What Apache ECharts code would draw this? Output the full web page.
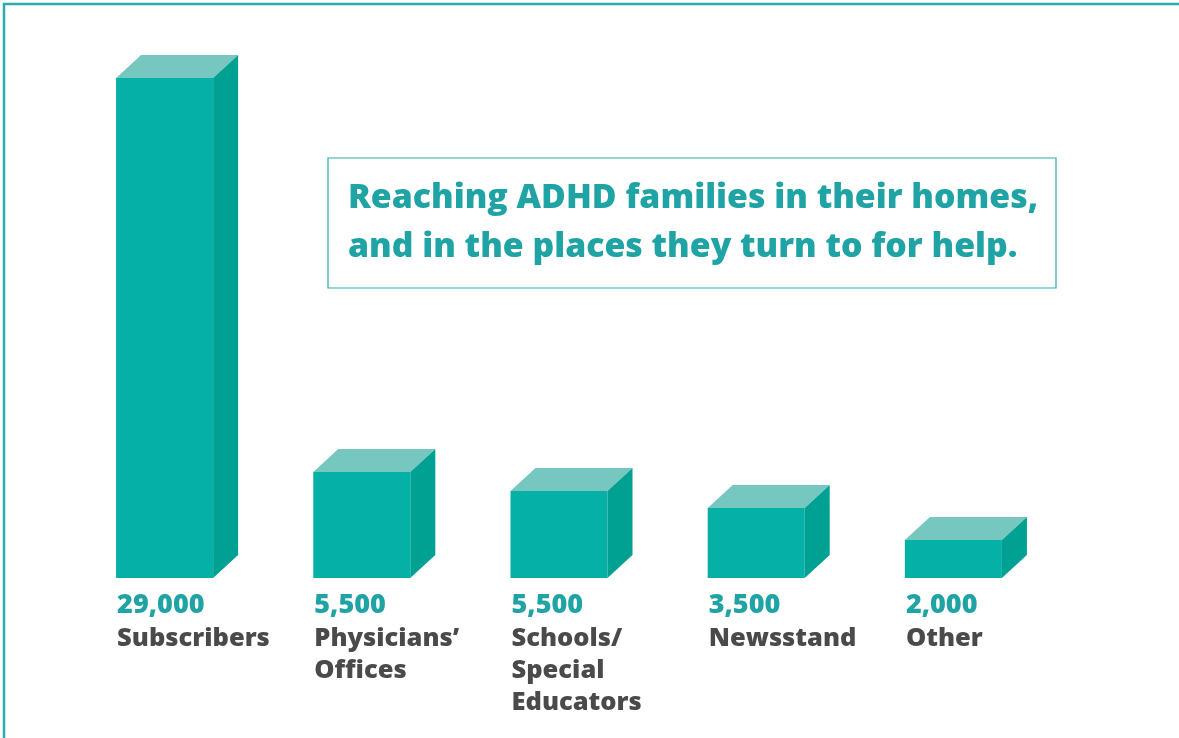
<!DOCTYPE html>
<html>
<head>
<meta charset="utf-8">
<script src="https://cdn.jsdelivr.net/npm/echarts@6/dist/echarts.min.js"></script>
<style>
html,body{margin:0;padding:0;background:#fff;}
#chart{width:1179px;height:738px;}
</style>
</head>
<body>
<div id="chart"></div>
<script>
// Data
const categories = ['Subscribers', 'Physicians’\nOffices', 'Schools/\nSpecial\nEducators', 'Newsstand', 'Other'];
const values = [29000, 5500, 5500, 3500, 2000];
// The reference draws bars not to scale; these are the drawn heights (same units)
const drawnHeights = [29000, 6150, 5050, 4060, 2200];
const titleLines = ['Reaching ADHD families in their homes,', 'and in the places they turn to for help.'];

const FRONT = '#05B0A6', TOP = '#76C7BF', SIDE = '#00A192';
const TEAL_TEXT = '#1FA3A4', GRAY_TEXT = '#4A4A4C';
const FONT = '"Open Sans", "Noto Sans", sans-serif';

const chart = echarts.init(document.getElementById('chart'));

function renderItem(params, api) {
  const idx = api.value(0);
  const base = api.coord([idx, 0]);
  const topPt = api.coord([idx, api.value(1)]);
  const band = api.size([1, 0])[0];
  const w = band * 0.492;
  const left = base[0] - w / 2;
  const bottom = base[1];
  const top = topPt[1];
  const dx = 25, dy = 23;
  return {
    type: 'group',
    children: [
      { type: 'rect', shape: { x: left, y: top, width: w, height: bottom - top }, style: { fill: FRONT } },
      { type: 'polygon', shape: { points: [[left, top], [left + dx, top - dy], [left + w + dx, top - dy], [left + w, top]] }, style: { fill: TOP } },
      { type: 'polygon', shape: { points: [[left + w, top], [left + w + dx, top - dy], [left + w + dx, bottom - dy], [left + w, bottom]] }, style: { fill: SIDE } },
      { type: 'text', style: { x: left + 1, y: bottom + 27, text: values[idx].toLocaleString('en-US'), fill: TEAL_TEXT, font: '800 27px ' + FONT, textAlign: 'left', textVerticalAlign: 'middle' } },
      { type: 'text', style: { x: left + 1, y: bottom + 45, text: categories[idx], fill: GRAY_TEXT, font: '800 25.5px ' + FONT, lineHeight: 32, textAlign: 'left', textVerticalAlign: 'top' } }
    ]
  };
}

chart.setOption({
  animation: false,
  grid: { left: 66, right: 127, top: 78, bottom: 160 },
  xAxis: { type: 'category', data: categories, show: false },
  yAxis: { type: 'value', min: 0, max: 29000, show: false },
  series: [{
    type: 'custom',
    renderItem: renderItem,
    data: drawnHeights.map((h, i) => [i, h]),
    clip: false
  }],
  graphic: [
    { type: 'rect', shape: { x: 4, y: 4, width: 1300, height: 900 }, style: { fill: 'none', stroke: '#2AACAE', lineWidth: 2.5 }, z: 10 },
    { type: 'rect', shape: { x: 328, y: 158, width: 728, height: 130 }, style: { fill: '#fff', stroke: '#2AACAE', lineWidth: 1.2 } },
    { type: 'text', style: { x: 348, y: 198, text: titleLines[0], fill: TEAL_TEXT, font: '800 33.8px ' + FONT, textVerticalAlign: 'middle' } },
    { type: 'text', style: { x: 348, y: 247, text: titleLines[1], fill: TEAL_TEXT, font: '800 33.8px ' + FONT, textVerticalAlign: 'middle' } }
  ]
});
</script>
</body>
</html>
